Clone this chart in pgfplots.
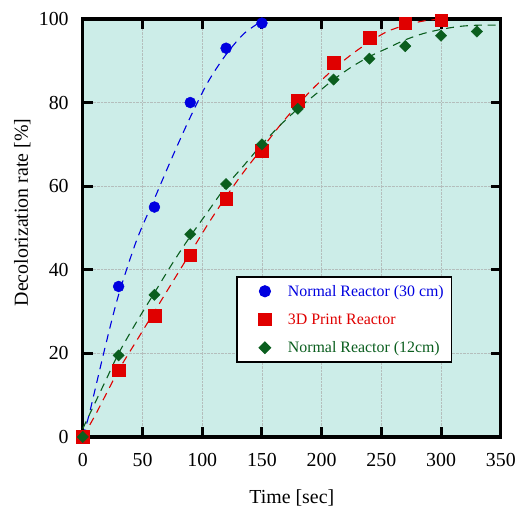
\documentclass[border=0pt]{standalone}
\usepackage{fontspec}
\setmainfont{Liberation Serif}
\usepackage{pgfplots}
\pgfplotsset{compat=1.18}
\definecolor{bgteal}{HTML}{CCEDE8}
\definecolor{sblue}{HTML}{0000E0}
\definecolor{sred}{HTML}{E00000}
\definecolor{sgreen}{HTML}{0A5E1E}
\definecolor{gridg}{HTML}{B4BEBC}
\pgfplotsset{
  mk/.style={only marks, legend image code/.code={\path[draw=none, fill=none] (0bp,-0.1bp) rectangle (43bp,0.1bp);\draw[##1] plot[only marks] coordinates {(22bp,0bp)};}},
  fit/.style={line width=1.1pt, dash pattern=on 8bp off 6bp, forget plot, smooth},
}

\begin{document}
\begin{tikzpicture}
\begin{axis}[
  scale only axis, width=419bp, height=419bp,
  xmin=0, xmax=350, ymin=0, ymax=100,
  xtick={0,50,...,350}, ytick={0,20,...,100},
  /pgf/number format/assume math mode=true,
  tick label style={font=\fontsize{20}{24}\selectfont},
  xticklabel style={anchor=base, yshift=-30bp},
  yticklabel style={anchor=east, inner xsep=0pt, xshift=-14bp},
  label style={font=\fontsize{20}{24}\selectfont},
  xlabel={Time [sec]}, ylabel={Decolorization rate [\%]},
  xlabel style={at={(axis description cs:0.5,0)}, anchor=base, yshift=-67bp},
  ylabel style={at={(axis description cs:0,0.537)}, anchor=base, rotate=0, yshift=55bp},
  axis line style={line width=3.2pt},
  tick align=inside, major tick length=10bp,
  every tick/.style={black, line width=3pt},
  grid=major, grid style={gridg, densely dotted, line width=0.6pt},
  axis background/.style={fill=bgteal},
  clip=false,
  legend style={font=\fontsize{16}{19}\selectfont, at={(rel axis cs:0.3675,0.384)}, anchor=north west,
    draw=black, line width=1.2pt, fill=white, inner xsep=6bp, inner ysep=6bp,
    row sep=12bp, cells={anchor=west}},
  legend cell align=left,
]
% fitted curves
\addplot[sblue, fit] coordinates {
(0,0) (5,5) (10,11) (20,23) (30,34) (45,47) (60,57) (75,67) (90,76.5) (105,85) (120,91.5) (135,96.5) (150,99.5)};
\addplot[sred, fit] coordinates {
(0,0) (10,5) (20,10.5) (30,16) (45,23) (60,30) (75,37) (90,44) (105,51) (120,57.5) (135,63.5) (150,69) (165,74.5) (180,79.5) (195,84) (210,88) (225,91.5) (240,94.5) (255,97) (270,98.5) (285,99.5) (300,100)};
\addplot[sgreen, fit] coordinates {
(0,2) (10,8) (20,14) (30,20) (45,27.5) (60,34.5) (75,41.5) (90,48) (105,54) (120,60) (135,65) (150,70) (165,74.5) (180,78.5) (195,82) (210,85.5) (225,88.5) (240,91) (255,93) (270,95) (285,96.5) (300,97.5) (315,98.2) (330,98.5) (350,98.5)};
% data
\addplot[mk, mark=*, mark size=5.5bp, sblue] coordinates {
(0,0) (30,36) (60,55) (90,80) (120,93) (150,99)};
\addlegendentry{\textcolor{sblue}{Normal Reactor (30 cm)}}
\addplot[mk, mark=square*, mark size=6.3bp, sred] coordinates {
(0,0) (30,16) (60,29) (90,43.5) (120,57) (150,68.5) (180,80.5) (210,89.5) (240,95.5) (270,99) (300,99.7)};
\addlegendentry{\textcolor{sred}{3D Print Reactor}}
\addplot[mk, mark=square*, mark options={rotate=45}, mark size=4bp, sgreen] coordinates {
(0,0) (30,19.5) (60,34) (90,48.5) (120,60.5) (150,70) (180,78.5) (210,85.5) (240,90.5) (270,93.5) (300,96) (330,97)};
\addlegendentry{\textcolor{sgreen}{Normal Reactor (12cm)}}
\end{axis}
\path ([shift={(-83bp,-72bp)}]current axis.south west) rectangle ([shift={(17bp,19bp)}]current axis.north east);
\end{tikzpicture}
\end{document}
